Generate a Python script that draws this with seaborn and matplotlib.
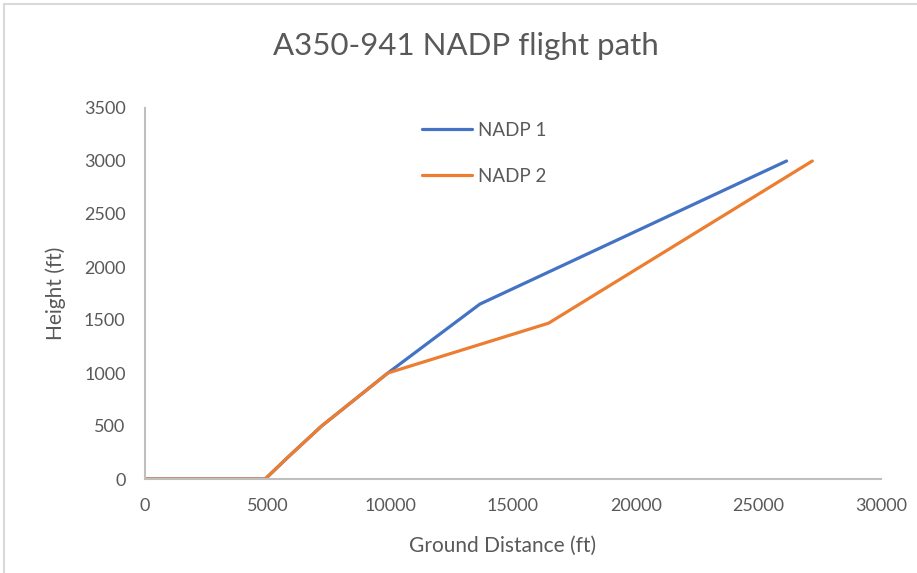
import matplotlib

matplotlib.use("Agg")
import matplotlib.pyplot as plt
import numpy as np
import pandas as pd
import seaborn as sns
from matplotlib.patches import Rectangle

# data (ground distance ft, height ft)
NADP1_X = [0, 4900, 5800, 7200, 9900, 13650, 26150]
NADP1_Y = [0, 0, 200, 500, 1000, 1650, 3000]
NADP2_X = [0, 4900, 5800, 7200, 9900, 16450, 27200]
NADP2_Y = [0, 0, 200, 500, 1000, 1470, 3000]
SERIES = ["NADP 1", "NADP 2"]
COLORS = ["#4472C4", "#ED7D31"]
X_TICKS = [0, 5000, 10000, 15000, 20000, 25000, 30000]
Y_TICKS = [0, 500, 1000, 1500, 2000, 2500, 3000, 3500]

GREY = "#595959"

df = pd.concat([
    pd.DataFrame({"x": NADP1_X, "y": NADP1_Y, "series": SERIES[0]}),
    pd.DataFrame({"x": NADP2_X, "y": NADP2_Y, "series": SERIES[1]}),
], ignore_index=True)

sns.set_theme(style="white")
plt.rcParams["font.family"] = ["Lato", "DejaVu Sans"]

W, H = 917, 573
fig = plt.figure(figsize=(W / 100, H / 100), dpi=100)
# axes placed in pixel coords of the reference
left, right, top, bottom = 145, 881, 108, 479
ax = fig.add_axes([left / W, 1 - bottom / H, (right - left) / W, (bottom - top) / H])

# chart frame like the Excel export
fig.add_artist(Rectangle((4 / W, -0.1), 1.2, 1 - 4 / H + 0.1, transform=fig.transFigure,
                         fill=False, edgecolor="#d9d9d9", linewidth=1.5))

sns.lineplot(data=df, x="x", y="y", hue="series", palette=COLORS, sort=False,
             estimator=None, linewidth=2.3, ax=ax)

ax.set_xlim(0, 30000)
ax.set_ylim(0, 3500)
ax.set_xticks(X_TICKS)
ax.set_yticks(Y_TICKS)
ax.tick_params(axis="both", colors=GREY, labelsize=13, length=0)
ax.tick_params(axis="x", pad=14)
ax.tick_params(axis="y", pad=14)

for side in ["top", "right"]:
    ax.spines[side].set_visible(False)
for side in ["left", "bottom"]:
    ax.spines[side].set_color("#bfbfbf")
    ax.spines[side].set_linewidth(1.5)

ax.set_xlabel("Ground Distance (ft)", color=GREY, fontsize=15)
ax.set_ylabel("Height (ft)", color=GREY, fontsize=15)
ax.xaxis.set_label_coords((503 - left) / (right - left), -(536 - bottom) / (bottom - top))
ax.yaxis.set_label_coords(-(left - 66) / (right - left), (bottom - 293) / (bottom - top))

fig.text(466 / W, 1 - 46 / H, "A350-941 NADP flight path", ha="center", va="center",
         color=GREY, fontsize=22.5)

leg = ax.legend(loc="upper left", bbox_to_anchor=(405 / W, 1 - 105 / H),
                bbox_transform=fig.transFigure, frameon=False, fontsize=13.5,
                handlelength=2.67, labelspacing=1.55, handletextpad=0.3)
for t in leg.get_texts():
    t.set_color(GREY)

fig.savefig("out.png", dpi=100)
